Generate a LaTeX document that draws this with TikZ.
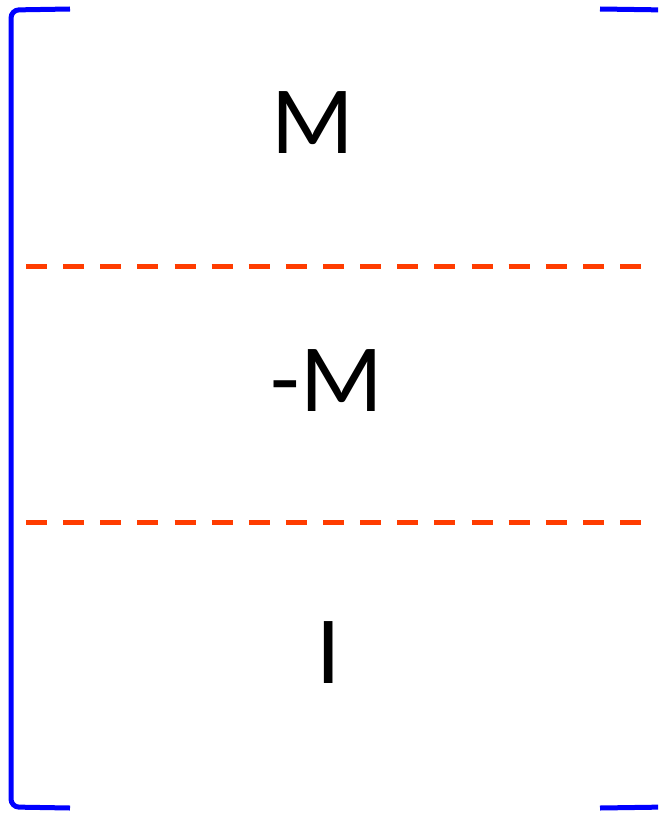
\documentclass[tikz,border=0pt]{standalone}
\usepackage{fontspec}
\setmainfont{Carlito}
\definecolor{brk}{RGB}{0,0,255}
\definecolor{dsh}{RGB}{255,60,0}
\begin{document}
\begin{tikzpicture}[x=0.75pt,y=-0.75pt,
  bracket/.style={draw=brk,line width=3.75pt,rounded corners=6pt},
  sep/.style={draw=dsh,line width=3.75pt,dash pattern=on 15.75pt off 12.1pt},
  lbl/.style={font=\fontsize{72.4pt}{80pt}\selectfont,inner sep=0pt,anchor=base}]
\useasboundingbox (0,0) rectangle (658,813);
\clip (0,0) rectangle (658,813);
\fill[white] (0,0) rectangle (658,813);
\draw[bracket] (70,9) -- (11,10) -- (11,807) -- (70,808);
\draw[bracket] (600,9) -- (668,10) -- (668,807) -- (600,808);
\draw[sep] (26,266) -- (648,266);
\draw[sep] (26,522) -- (648,522);
\node[lbl] (m) at (313,154) {M};
\node[lbl] (negm) at (327,411) {-M};
\node[lbl] (id) at (329,683) {I};
\end{tikzpicture}
\end{document}
